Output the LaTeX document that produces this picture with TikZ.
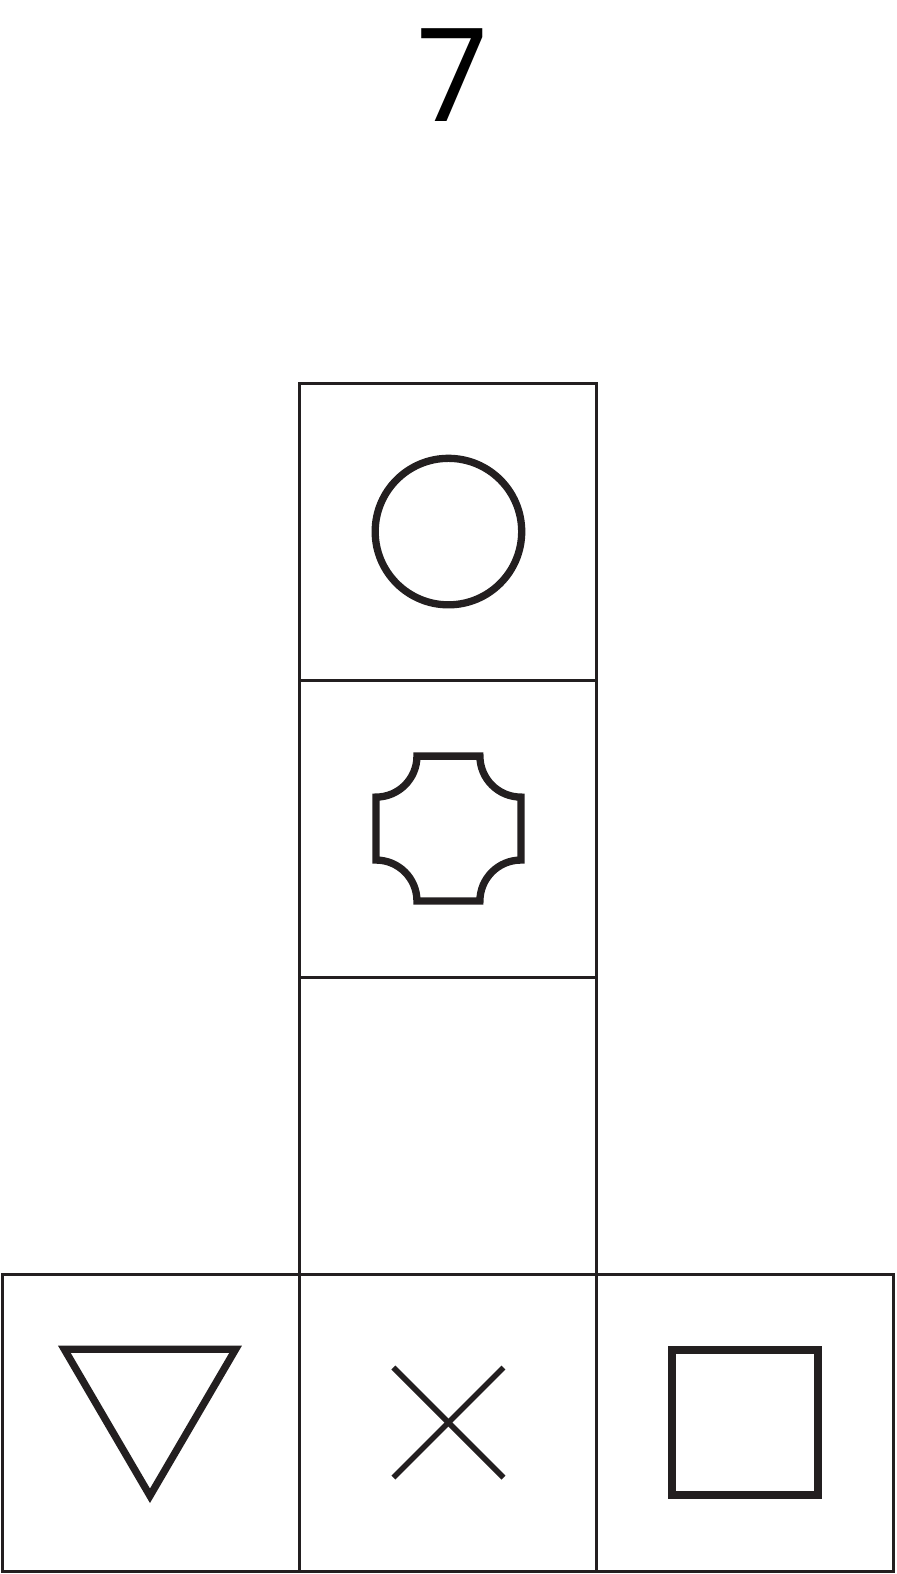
\documentclass[tikz,border=0pt]{standalone}
\usepackage{fontspec}
\newfontfamily\digitfont{Poppins}
\definecolor{ink}{HTML}{231F20}
\tikzset{
  cell/.style={draw=ink, line width=0.86pt, minimum size=3cm, inner sep=0pt},
  sign/.style={draw=ink, line width=2.1pt},
}
\begin{document}
\begin{tikzpicture}
\useasboundingbox (-0.03,-0.03) rectangle (9.03,15.87);
\node [anchor=base] (num) at (4.54,14.64) {\digitfont\fontsize{37}{40}\selectfont 7};
% column
\node [cell] (top) at (4.5,10.5) {};
\node [cell] (mid) at (4.5,7.5) {};
\node [cell] (low) at (4.5,4.5) {};
% bottom row
\node [cell] (left) at (1.5,1.5) {};
\node [cell] (centre) at (4.5,1.5) {};
\node [cell] (right) at (7.5,1.5) {};
% signs
\draw [sign](top.center) circle (0.74);
\draw [sign](mid.center) ++(-0.318,0.732) -- ++(0.636,0) arc (180:270:0.414) -- ++(0,-0.636) arc (90:180:0.414) -- ++(-0.636,0) arc (0:90:0.414) -- ++(0,0.636) arc (270:360:0.414) -- cycle;
\draw [sign](left.center) ++(-0.88,0.74) -- ++(1.73,0) -- ++(-0.865,-1.48) -- cycle;
\draw [sign,line width=1.6pt](centre.center) ++(-0.556,0.556) -- ++(1.112,-1.112);
\draw [sign,line width=1.6pt](centre.center) ++(0.556,0.556) -- ++(-1.112,-1.112);
\draw [sign,line width=2.3pt](right.center) ++(-0.737,-0.737) rectangle ++(1.474,1.474);
\end{tikzpicture}
\end{document}
